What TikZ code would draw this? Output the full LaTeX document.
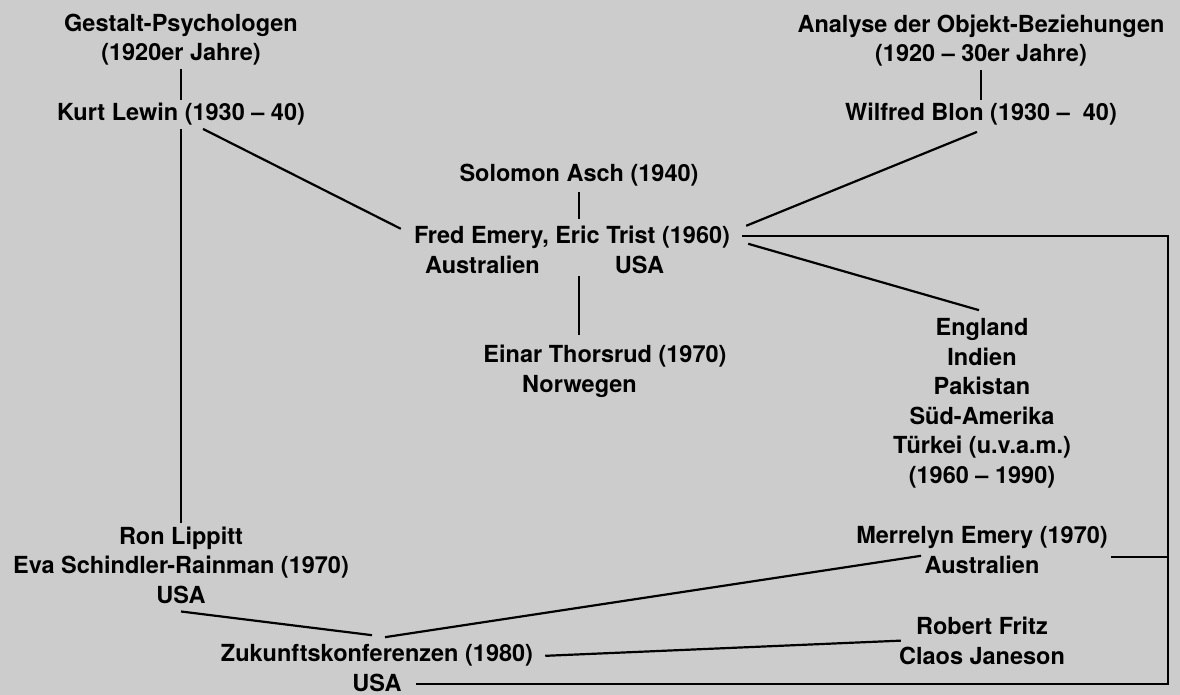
\documentclass[tikz,border=0pt]{standalone}
\usepackage{fontspec}
\setmainfont{TeX Gyre Heros}
\usepackage{tikz}
\definecolor{bggray}{HTML}{CCCCCC}
\tikzstyle{person}=[font=\bfseries\fontsize{23.5}{29.5}\selectfont,align=center,inner sep=3pt,anchor=base,text=black]
\tikzstyle{link}=[-,line width=2.2pt]

\begin{document}
\begin{tikzpicture}[x=1pt,y=-1pt]

  \fill[bggray] (0,0) rectangle (1180,695);
  \useasboundingbox (0,0) rectangle (1180,695);

  % anchors sit on the baseline of the last line
  \node[person] (gestalt) at (181,61) {Gestalt-Psychologen\\(1920er Jahre)};
  \node[person] (lewin) at (181,121) {Kurt Lewin (1930 – 40)};
  \node[person] (analyse) at (981,62) {Analyse der Objekt-Beziehungen\\(1920 – 30er Jahre)};
  \node[person] (blon) at (981,121) {Wilfred Blon (1930 –\ \ 40)};
  \node[person] (asch) at (579,182) {Solomon Asch (1940)};
  \node[person] (emery) at (572,273) {Fred Emery, Eric Trist (1960)\\Australien\hspace{75pt}USA\hspace*{55pt}};
  \node[person] (thorsrud) at (605,392) {Einar Thorsrud (1970)\\Norwegen\hspace*{51pt}};
  \node[person] (countries) at (982,483) {England\\Indien\\Pakistan\\Süd-Amerika\\Türkei (u.v.a.m.)\\(1960 – 1990)};
  \node[person] (lippitt) at (181,603) {Ron Lippitt\\Eva Schindler-Rainman (1970)\\USA};
  \node[person] (merrelyn) at (982,573) {Merrelyn Emery (1970)\\Australien};
  \node[person] (fritz) at (982,664) {Robert Fritz\\Claos Janeson};
  \node[person] (zukunft) at (377,691) {Zukunftskonferenzen (1980)\\USA};
  \coordinate (rail) at (1168,684);

  \draw[link] (gestalt) -- (lewin);
  \draw[link] (analyse) -- (blon);
  \draw[link] (lewin.south) -- (lewin.south|-lippitt.north);
  \draw[link] ([xshift=22pt]lewin.south) -- ([xshift=-10pt,yshift=-6pt]emery.north west);
  \draw[link] ([xshift=-4pt,yshift=-3pt]blon.south) -- ([xshift=13pt,yshift=-3pt]emery.north east);
  \draw[link,shorten <=2pt,shorten >=4pt] (asch.south) -- (asch.south|-emery.north);
  \draw[link,shorten >=7pt] (asch.south|-emery.south) -- (asch.south|-thorsrud.north);
  \draw[link] ([xshift=15pt,yshift=-21pt]emery.north east) -- ([xshift=-3pt,yshift=5pt]countries.north);
  \draw[link] ([xshift=9pt,yshift=-13pt]emery.north east) -| (rail) -- ([xshift=39pt]zukunft.south|-rail);
  \draw[link] ([yshift=-7pt]merrelyn.east) -- ([yshift=-7pt]merrelyn.east-|rail);
  \draw[link] ([yshift=-5pt]lippitt.south) -- ([xshift=-5pt,yshift=6pt]zukunft.north);
  \draw[link] ([xshift=8pt,yshift=4pt]zukunft.north) -- ([xshift=68pt,yshift=-6pt]merrelyn.west);
  \draw[link] ([xshift=9pt,yshift=12pt]zukunft.east) -- ([xshift=5pt]fritz.west);

\end{tikzpicture}
\end{document}
